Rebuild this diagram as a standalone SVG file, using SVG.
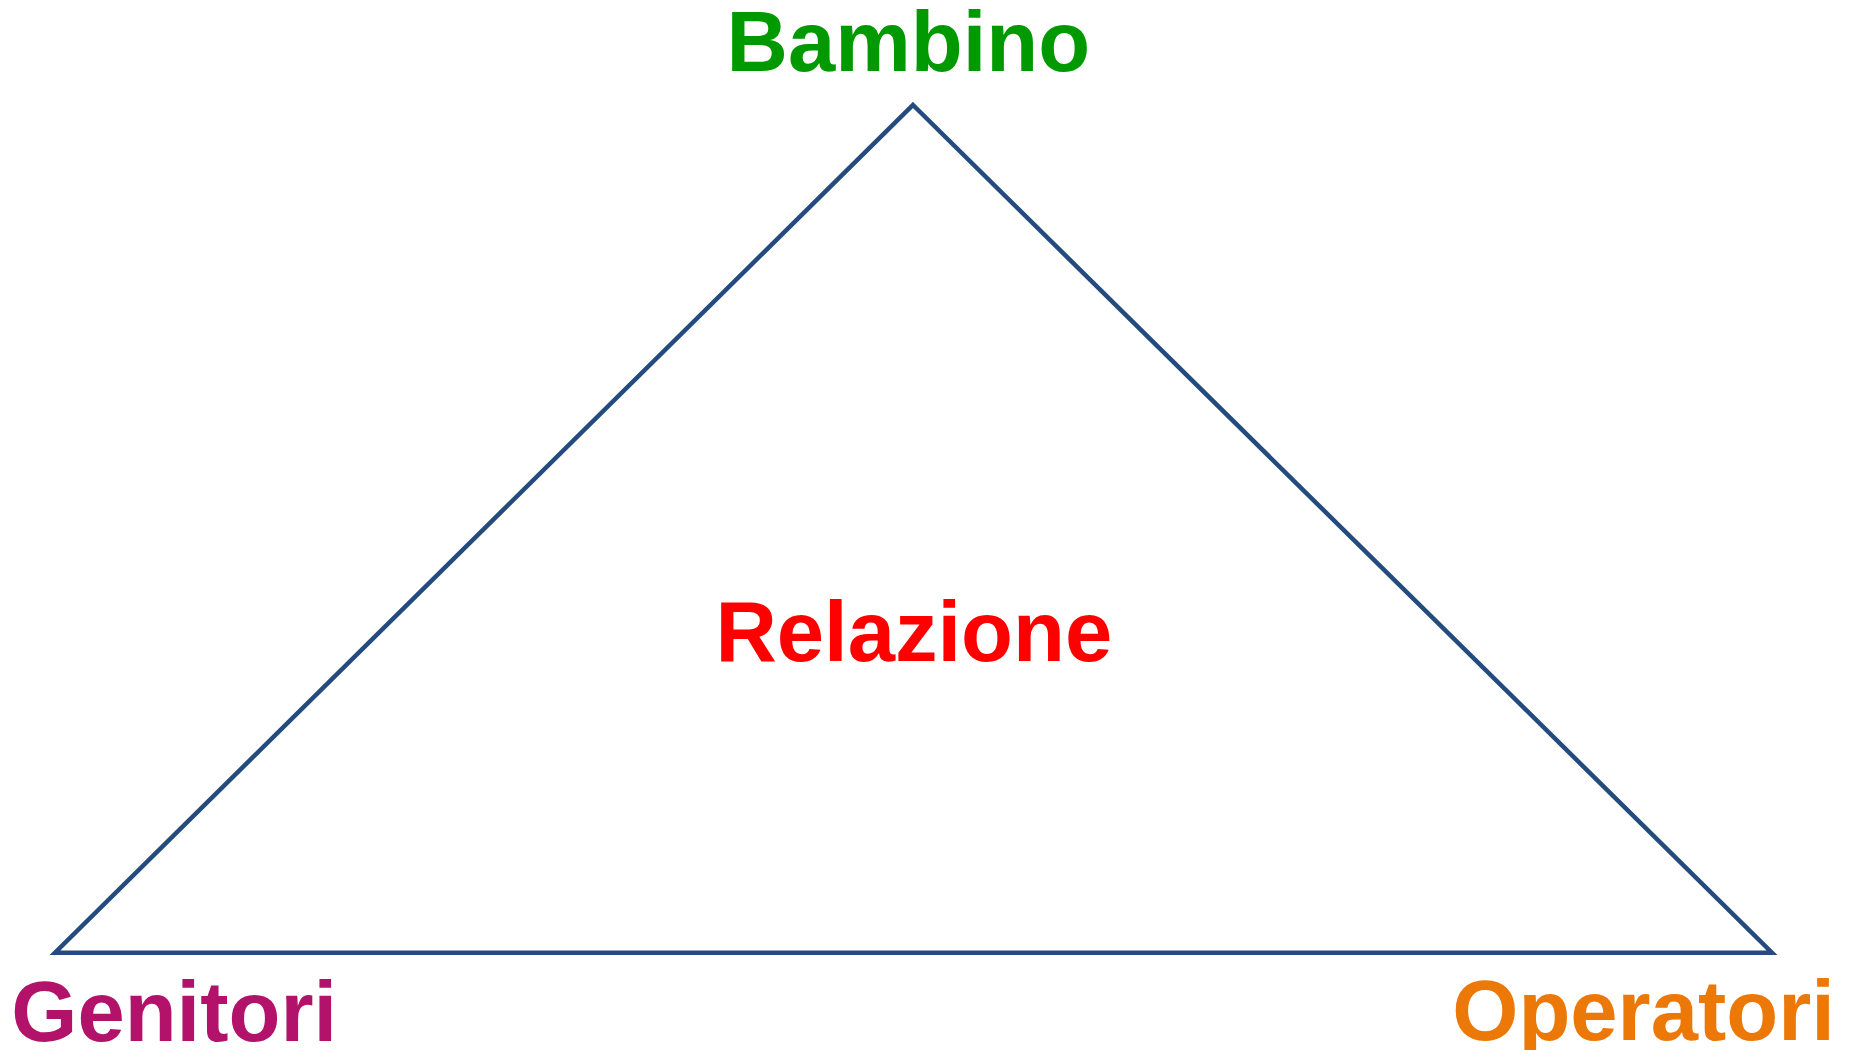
<svg xmlns="http://www.w3.org/2000/svg" width="1849" height="1050" viewBox="0 0 1849 1050">
<style>
.lbl{font-family:"Liberation Sans",Arial,sans-serif;font-weight:bold;font-size:85px}
</style>
<rect width="1849" height="1050" fill="#ffffff"/>
<g id="connectors">
<polygon points="913,105 1772,952.7 55,952.7" fill="none" stroke="#234B7D" stroke-width="4.5" stroke-linejoin="miter"/>
</g>
<g id="node-bambino"><text class="lbl" x="726.5" y="71" fill="#009900">Bambino</text></g>
<g id="node-relazione"><text class="lbl" x="715.4" y="660.7" fill="#FF0000">Relazione</text></g>
<g id="node-genitori"><text class="lbl" x="11.3" y="1041" fill="#B3126B">Genitori</text></g>
<g id="node-operatori"><text class="lbl" x="1452.3" y="1040" fill="#EC7807">Operatori</text></g>
</svg>
